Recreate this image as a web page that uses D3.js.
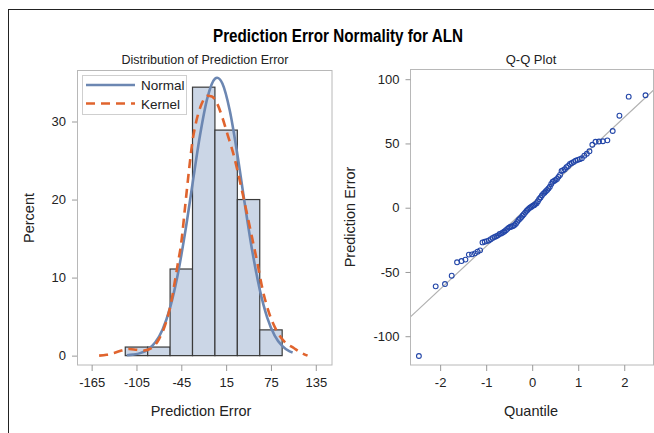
<!DOCTYPE html>
<html><head><meta charset="utf-8">
<script src="https://cdn.jsdelivr.net/npm/d3@7"></script>
<style>
body{margin:0;background:#fff;}
svg text{font-family:"Liberation Sans",Arial,sans-serif;fill:#222;}
</style></head><body><svg id="c" width="654" height="433"></svg>
<script>
// ---- data ----
const binMids = [-105, -75, -45, -15, 15, 45, 75];
const binPercents = [1.1, 1.1, 11.1, 34.4, 28.9, 20.0, 3.3];
const binWidth = 30;
const histTicks = [-165, -105, -45, 15, 75, 135];
const pctTicks = [0, 10, 20, 30];

const normalX = [-118,-110,-100,-90,-80,-70,-60,-50,-40,-30,-20,-10,0,3,10,20,30,40,50,60,70,80,90,100,104];
const normalY = [0.05,0.13,0.32,0.77,1.69,3.36,6.14,10.27,15.7,22.0,28.2,33.05,35.48,35.6,34.86,31.34,25.8,19.43,13.4,8.46,4.88,2.57,1.25,0.55,0.39];

const kernelX = [-155,-145,-135,-125,-115,-105,-95,-85,-75,-65,-58,-54,-50,-45,-40,-35,-30,-25,-18,-10,-4,3,10,17,24,30,37,44,50,57,64,72,82,93,106,115,124];
const kernelY = [0.0,0.12,0.35,0.65,0.85,0.75,0.65,0.95,2.1,4.4,7.1,9.3,11.6,14.5,19.0,23.5,27.5,30.0,32.2,33.3,33.2,32.3,30.5,28.3,26.1,23.8,20.8,17.7,15.0,11.8,8.4,5.6,3.3,1.8,0.95,0.4,0.0];

const qqQuantile = [-2.462,-2.097,-1.895,-1.749,-1.633,-1.536,-1.451,-1.376,-1.307,-1.244,-1.187,-1.132,-1.080,-1.032,-0.986,-0.942,-0.900,-0.859,-0.819,-0.781,-0.744,-0.708,-0.672,-0.638,-0.604,-0.571,-0.539,-0.507,-0.476,-0.445,-0.414,-0.384,-0.354,-0.325,-0.296,-0.267,-0.238,-0.210,-0.182,-0.153,-0.125,-0.097,-0.069,-0.042,-0.014,
0.014,0.042,0.069,0.097,0.125,0.153,0.182,0.210,0.238,0.267,0.296,0.325,0.354,0.384,0.414,0.445,0.476,0.507,0.539,0.571,0.604,0.638,0.672,0.708,0.744,0.781,0.819,0.859,0.900,0.942,0.986,1.032,1.080,1.132,1.187,1.244,1.307,1.376,1.451,1.536,1.633,1.749,1.895,2.097,2.462];
const qqValue = [-115.4,-61.2,-59.4,-52.9,-42.5,-41.5,-40.4,-36.5,-36.3,-35.5,-34.2,-33.2,-27.0,-26.5,-26.0,-25.5,-24.5,-23.5,-22.8,-22.2,-21.5,-20.5,-20.0,-19.2,-18.5,-17.5,-16.5,-15.5,-15.0,-14.6,-14.2,-13.5,-12.5,-11.0,-9.5,-8.5,-7.5,-6.2,-5.0,-3.8,-2.5,-1.5,-0.5,0.2,0.8,
1.5,2.0,2.8,3.5,5.0,6.8,8.0,9.5,10.8,11.7,12.8,13.8,15.0,16.3,18.5,20.2,20.8,21.6,22.4,24.0,25.5,28.6,29.2,29.9,31.5,32.5,34.0,34.8,35.6,36.6,37.2,37.8,38.5,40.5,42.0,43.9,49.0,51.3,51.5,51.7,52.4,59.7,71.6,86.4,87.5];
const qqLineIntercept = 3.4;
const qqLineSlope = 33.4;
const qqXTicks = [-2, -1, 0, 1, 2];
const qqYTicks = [-100, -50, 0, 50, 100];

// ---- drawing ----
const svg = d3.select("#c");
svg.append("rect").attr("x",8.5).attr("y",9.5).attr("width",700).attr("height",500)
  .attr("fill","none").attr("stroke","#222").attr("stroke-width",1);

svg.append("text").attr("x",213).attr("y",42)
  .attr("textLength",250).attr("lengthAdjust","spacingAndGlyphs")
  .style("font-size","17.5px").style("font-weight","bold").style("fill","#000")
  .text("Prediction Error Normality for ALN");

const frameColor = "#b8b8b8";
const tickColor = "#999";
const fmt = d => String(d);

function styleAxis(g){
  g.select(".domain").remove();
  g.selectAll(".tick line").attr("stroke",tickColor);
  g.selectAll(".tick text").style("font-size","13px").style("fill","#222");
}

// Left: histogram
const hx = d3.scaleLinear().domain([-184.6,156.7]).range([77,332]);
const hy = d3.scaleLinear().domain([-1.2,36.6]).range([365,70]);

svg.append("text").attr("x",205).attr("y",64).attr("text-anchor","middle")
  .attr("textLength",167).attr("lengthAdjust","spacingAndGlyphs")
  .style("font-size","13px").text("Distribution of Prediction Error");

const hg = svg.append("g");
hg.selectAll("rect.bar").data(binMids).join("rect").attr("class","bar")
  .attr("x",d=>hx(d-binWidth/2)).attr("width",d=>hx(d+binWidth/2)-hx(d-binWidth/2))
  .attr("y",(d,i)=>hy(binPercents[i])).attr("height",(d,i)=>hy(0)-hy(binPercents[i]))
  .attr("fill","#cbd6e6").attr("stroke","#3a3a3a").attr("stroke-width",1.2);

const lineH = d3.line().x(d=>hx(d[0])).y(d=>hy(d[1])).curve(d3.curveMonotoneX);
hg.append("path").datum(normalX.map((x,i)=>[x,normalY[i]])).attr("d",lineH)
  .attr("fill","none").attr("stroke","#6c87b2").attr("stroke-width",2.6);
hg.append("path").datum(kernelX.map((x,i)=>[x,kernelY[i]])).attr("d",lineH)
  .attr("fill","none").attr("stroke","#e0642e").attr("stroke-width",2.6).attr("stroke-dasharray","9,6");

svg.append("rect").attr("x",77.5).attr("y",70.5).attr("width",254.5).attr("height",294.5)
  .attr("fill","none").attr("stroke",frameColor);

svg.append("g").attr("transform","translate(0,365)")
  .call(d3.axisBottom(hx).tickValues(histTicks).tickSize(6).tickPadding(7).tickFormat(fmt)).call(styleAxis);
svg.append("g").attr("transform","translate(77,0)")
  .call(d3.axisLeft(hy).tickValues(pctTicks).tickSize(5).tickPadding(6).tickFormat(fmt)).call(styleAxis);

svg.append("text").attr("x",201).attr("y",416).attr("text-anchor","middle")
  .style("font-size","14.5px").text("Prediction Error");
svg.append("text").attr("transform","translate(34,218) rotate(-90)").attr("text-anchor","middle")
  .style("font-size","14.5px").text("Percent");

// legend
const lg = svg.append("g");
lg.append("rect").attr("x",82.5).attr("y",75.5).attr("width",104).attr("height",39)
  .attr("fill","#fff").attr("stroke","#cfcfcf");
lg.append("line").attr("x1",86).attr("x2",135).attr("y1",85).attr("y2",85)
  .attr("stroke","#6c87b2").attr("stroke-width",2.6);
lg.append("line").attr("x1",86).attr("x2",135).attr("y1",103.5).attr("y2",103.5)
  .attr("stroke","#e0642e").attr("stroke-width",2.6).attr("stroke-dasharray","9,6");
lg.append("text").attr("x",141).attr("y",90).style("font-size","13.5px").text("Normal");
lg.append("text").attr("x",141).attr("y",108.5).style("font-size","13.5px").text("Kernel");

// Right: Q-Q
const qx = d3.scaleLinear().domain([-2.64,2.64]).range([410.7,653.7]);
const qy = d3.scaleLinear().domain([-122.4,107.7]).range([365,69.3]);

svg.append("text").attr("x",531).attr("y",64).attr("text-anchor","middle")
  .style("font-size","13px").text("Q-Q Plot");

const qg = svg.append("g");
qg.append("line").attr("x1",qx(-2.64)).attr("x2",qx(2.64))
  .attr("y1",qy(qqLineIntercept+qqLineSlope*-2.64)).attr("y2",qy(qqLineIntercept+qqLineSlope*2.64))
  .attr("stroke","#b0b0b0").attr("stroke-width",1.2);
qg.selectAll("circle").data(qqQuantile).join("circle")
  .attr("cx",d=>qx(d)).attr("cy",(d,i)=>qy(qqValue[i])).attr("r",2.4)
  .attr("fill","none").attr("stroke","#2346a8").attr("stroke-width",1.1);

svg.append("rect").attr("x",410.5).attr("y",69.5).attr("width",243).attr("height",295.5)
  .attr("fill","none").attr("stroke",frameColor);

svg.append("g").attr("transform","translate(0,365)")
  .call(d3.axisBottom(qx).tickValues(qqXTicks).tickSize(6).tickPadding(7).tickFormat(fmt)).call(styleAxis);
svg.append("g").attr("transform","translate(410.5,0)")
  .call(d3.axisLeft(qy).tickValues(qqYTicks).tickSize(5).tickPadding(6).tickFormat(fmt)).call(styleAxis);

svg.append("text").attr("x",531).attr("y",416).attr("text-anchor","middle")
  .style("font-size","14.5px").text("Quantile");
svg.append("text").attr("transform","translate(355,217) rotate(-90)").attr("text-anchor","middle")
  .style("font-size","14.5px").text("Prediction Error");
</script></body></html>
